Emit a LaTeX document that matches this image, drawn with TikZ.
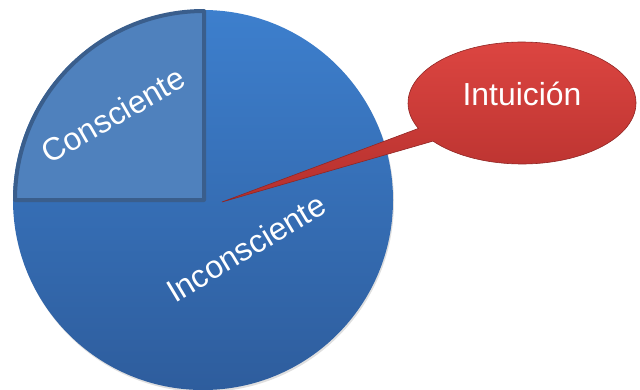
\documentclass[tikz,border=0pt]{standalone}
\usepackage{fontspec}
\setmainfont{Liberation Sans}
\usepackage{tikz}
\usetikzlibrary{shapes.callouts, shadows}
\definecolor{pietop}{HTML}{3D7FCD}
\definecolor{piebot}{HTML}{2E5D9D}
\definecolor{quarterfill}{HTML}{4F81BD}
\definecolor{quarterline}{HTML}{3A5E8C}
\definecolor{redtop}{HTML}{DC4541}
\definecolor{redbot}{HTML}{B5302D}
\tikzstyle{pietext} = [text=white, font=\fontsize{32}{36}\selectfont, inner sep=0pt]
\tikzstyle{bubble} = [ellipse callout, top color=redtop, bottom color=redbot,
    draw=redbot!80!black, line width=0.6bp, minimum width=228bp, minimum height=122bp,
    callout pointer arc=14, text depth=18bp]

\begin{document}
\begin{tikzpicture}[x=1bp, y=1bp,
pie/.style = {circle, minimum size=380bp, inner sep=0pt, top color=pietop, bottom color=piebot,
    drop shadow={opacity=0.25, shadow xshift=1bp, shadow yshift=-2bp}},
quarter/.style = {fill=quarterfill, draw=quarterline, line width=4bp, line join=round}
                        ]
\useasboundingbox (0,0) rectangle (640,389);
% the whole circle
\node [pie] (pie) at (203,189) {};
\coordinate (mid) at (204,189);
% top left quarter
\draw [quarter] (mid) -- ++(-189,0) arc (180:90:189) -- cycle;
\node [pietext, rotate=30] (cons) at (113,274) {Consciente};
\node [pietext, rotate=31] (incons) at (246,141) {Inconsciente};
% callout
\coordinate (tip) at (222,187);
\node [bubble, callout absolute pointer=(tip), pietext] (intu) at (522,286) {Intuición};
\end{tikzpicture}
\end{document}
